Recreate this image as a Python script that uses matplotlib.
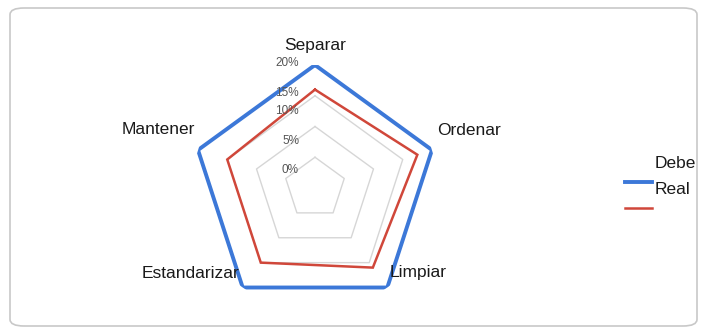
import numpy as np
import matplotlib
matplotlib.use("Agg")
from matplotlib import pyplot as plt
from matplotlib.lines import Line2D
from matplotlib.patches import FancyBboxPatch
from matplotlib.transforms import ScaledTranslation

plt.rcParams['font.family'] = ['Liberation Sans', 'DejaVu Sans']

#categories and series (percent)
categories = ["Separar", "Ordenar", "Limpiar", "Estandarizar", "Mantener"]
debe = [20, 20, 20, 20, 20]
real = [16, 17.5, 16, 15, 15]
series_names = ["Debe", "Real"]
grid_levels = [5, 10, 15, 20]
tick_labels = ["20%", "15%", "10%", "5%", "0%"]
tick_label_r = [20.3, 15.4, 12.5, 7.6, 2.9]

blue = "#3c78d8"
red = "#d0473a"
grey = "#d6d6d6"

fig = plt.figure(figsize=(7.05, 3.28), dpi=100)
W, H = 705, 328

#rounded border round the whole chart
fig.patches.append(FancyBboxPatch((10 / W, 2 / H), 687 / W, 318 / H,
                                  boxstyle="round,pad=0,rounding_size=0.02",
                                  transform=fig.transFigure, fill=False,
                                  edgecolor="#c8c8c8", linewidth=1.2))

cx, cy, R = 315, 188, 123
ax = fig.add_axes([(cx - R) / W, (H - cy - R) / H, 2 * R / W, 2 * R / H], polar=True)
ax.set_theta_offset(np.pi / 2)
ax.set_theta_direction(-1)
ax.set_ylim(0, 20)
ax.grid(False)
ax.spines['polar'].set_visible(False)
ax.set_xticks([])
ax.set_yticks([])
ax.patch.set_alpha(0)

n = len(categories)
theta = np.linspace(0, 2 * np.pi, n, endpoint=False)
theta_c = np.append(theta, theta[0])

#pentagon grid
for lvl in grid_levels[:-1]:
    ax.plot(theta_c, [lvl] * (n + 1), color=grey, lw=1.0, zorder=1)

ax.plot(theta_c, debe + debe[:1], color=blue, lw=2.8, zorder=3, solid_joinstyle='miter')
ax.plot(theta_c, real + real[:1], color=red, lw=1.8, zorder=3, solid_joinstyle='miter')

#radial tick labels, left of the top axis
off = ScaledTranslation(-16 / 100, 0, fig.dpi_scale_trans)
for lab, r in zip(tick_labels, tick_label_r):
    ax.text(0, r, lab, transform=ax.transData + off, ha='right', va='center',
            fontsize=8.5, color="#555555")

#category labels next to the outer vertices
label_offsets = [(0, 12, 'center', 'bottom'), (5, 19, 'left', 'center'),
                 (2, 15, 'left', 'center'), (-3, 14, 'right', 'center'),
                 (-3, 20, 'right', 'center')]
for t, name, (dx, dy, ha, va) in zip(theta, categories, label_offsets):
    tr = ax.transData + ScaledTranslation(dx / 100, dy / 100, fig.dpi_scale_trans)
    ax.text(t, 20, name, transform=tr, ha=ha, va=va, fontsize=12.5, color="#1a1a1a")

#legend
for i, (name, col, lw) in enumerate(zip(series_names, [blue, red], [2.8, 1.8])):
    ty = 163 + 26 * i
    ly = 182 + 26 * i
    fig.text(655 / W, 1 - ty / H, name, ha='left', va='center', fontsize=12.5, color="#1a1a1a")
    fig.add_artist(Line2D([625 / W, 652 / W], [1 - ly / H, 1 - ly / H],
                          transform=fig.transFigure, color=col, lw=lw))

fig.savefig("out.png", dpi=100)
